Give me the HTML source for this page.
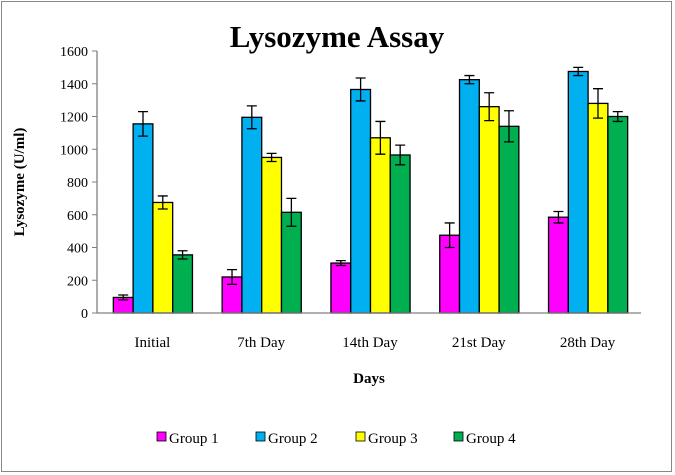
<!DOCTYPE html>
<html><head><meta charset="utf-8"><style>
body{margin:0;background:#fff}
svg{display:block;font-family:"Liberation Serif",serif}
</style></head><body>
<svg width="675" height="475">
<rect x="1.5" y="1.5" width="670" height="470" fill="#fff" stroke="#888"/>
<text x="337" y="47" text-anchor="middle" font-size="31" font-weight="bold">Lysozyme Assay</text>
<text transform="translate(24,182) rotate(-90)" text-anchor="middle" font-size="15" font-weight="bold">Lysozyme  (U/ml)</text>
<text x="369" y="383" text-anchor="middle" font-size="15" font-weight="bold">Days</text>
<g id="plot"></g>
<g id="legend"></g>
</svg>
<script>
const categories=["Initial","7th Day","14th Day","21st Day","28th Day"];
const seriesNames=["Group 1","Group 2","Group 3","Group 4"];
const colors=["#ff00ff","#00b0f0","#ffff00","#00b050"];
const g1=[95,220,305,475,585];
const g2=[1155,1195,1365,1425,1475];
const g3=[675,950,1070,1260,1280];
const g4=[355,615,965,1140,1200];
const e1=[15,45,15,75,35];
const e2=[75,70,70,25,25];
const e3=[40,25,100,85,90];
const e4=[25,85,60,95,30];
const yTicks=[0,200,400,600,800,1000,1200,1400,1600];
const series=[g1,g2,g3,g4], errs=[e1,e2,e3,e4];
const NS="http://www.w3.org/2000/svg";
const X0=97,X1=641,Y0=313,Y1=51,YMAX=1600;
const cw=(X1-X0)/categories.length, bw=cw/5.5;
const y=v=>Y0-(v/YMAX)*(Y0-Y1);
const plot=document.getElementById('plot');
function mk(tag,attrs,parent){const e=document.createElementNS(NS,tag);for(const k in attrs)e.setAttribute(k,attrs[k]);(parent||plot).appendChild(e);return e;}
yTicks.forEach(t=>{
  const l=mk('line',{x1:X0-5,x2:X0,y1:y(t),y2:y(t),stroke:'#808080'});
  
  
  const tx=mk('text',{x:X0-9,y:y(t)+5,'text-anchor':'end','font-size':14});
  tx.textContent=t;
  
  
});
categories.forEach((c,i)=>{
  const tx=mk('text',{x:X0+1+cw*(i+0.5),y:347,'text-anchor':'middle','font-size':15});
  tx.textContent=c;
  
  
  series.forEach((s,j)=>{
    const bx=X0+1.5+cw*i+bw*0.75+bw*j;
    const r=mk('rect',{x:bx,y:y(s[i]),width:bw,height:Y0-y(s[i]),fill:colors[j],stroke:'#000','stroke-width':1.3});
    
    
    const cx=bx+bw/2,hi=y(s[i]+errs[j][i]),lo=y(s[i]-errs[j][i]);
    const eb=mk('path',{d:`M${cx-5},${hi}H${cx+5}M${cx},${hi}V${lo}M${cx-5},${lo}H${cx+5}`,stroke:'#000','stroke-width':1.3,fill:'none'});
    
    
  });
});
const ax=mk('path',{d:`M${X0},${Y1}V${Y0}H${X1}`,stroke:'#808080','stroke-width':1.3,fill:'none'});


const leg=document.getElementById('legend');
const lx=[157,256,356,454];
seriesNames.forEach((n,j)=>{
  const r=mk('rect',{x:lx[j],y:432,width:9,height:9,fill:colors[j],stroke:'#000','stroke-width':0.8},leg);
  
  
  const t=mk('text',{x:lx[j]+12,y:443,'font-size':15},leg);
  t.textContent=n;
  
  
});
</script>
</body></html>
